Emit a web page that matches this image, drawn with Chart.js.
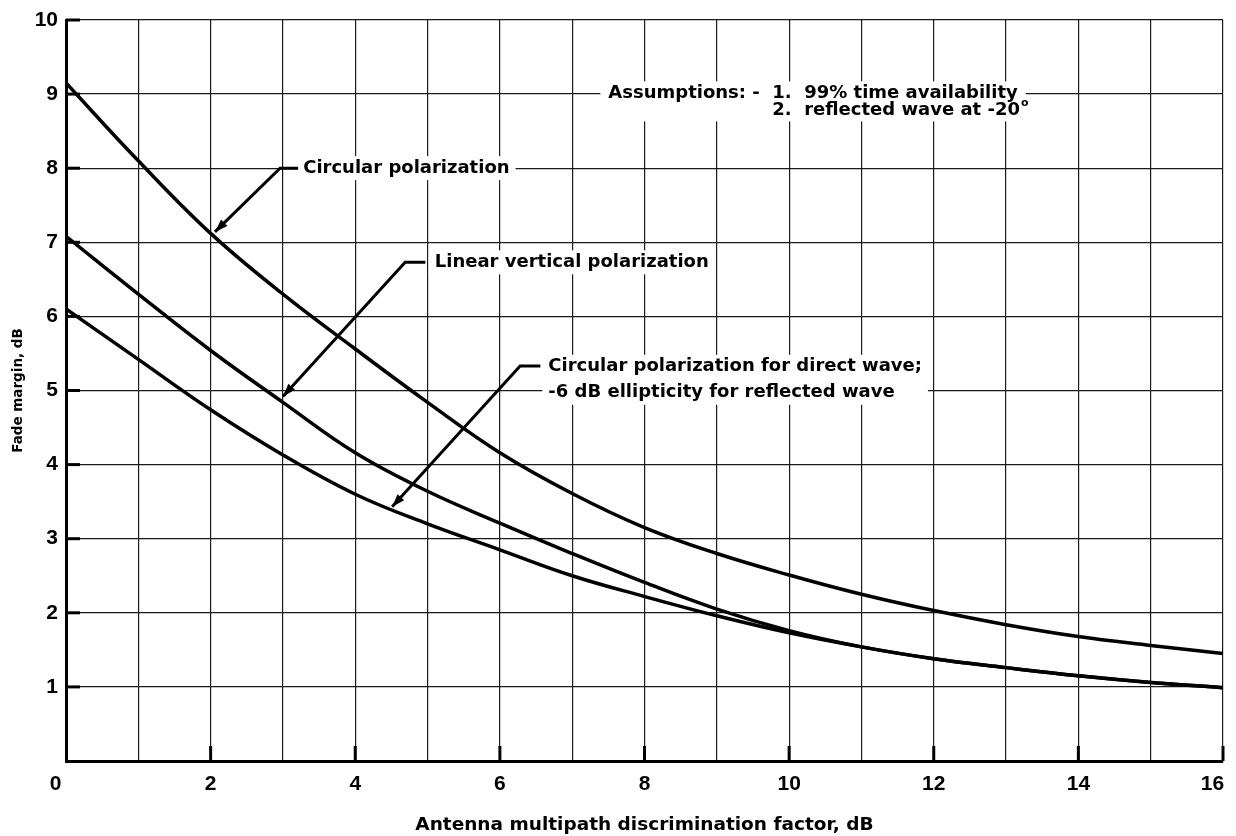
<!DOCTYPE html>
<html>
<head>
<meta charset="utf-8">
<title>Fade margin vs antenna multipath discrimination</title>
<script src="https://cdn.jsdelivr.net/npm/chart.js@4.4.1/dist/chart.umd.min.js"></script>
<style>
  html, body { margin: 0; padding: 0; background: #fff; }
  #wrap { width: 1236px; height: 836px; position: relative; }
</style>
</head>
<body>
<div id="wrap"><canvas id="fadeChart"></canvas></div>
<script>
// Fade margin (dB) against antenna multipath discrimination factor (dB)
const discrimination = [0, 1, 2, 3, 4, 5, 6, 7, 8, 9, 10, 11, 12, 13, 14, 15, 16];
const circularPol = [9.15, 8.1, 7.12, 6.3, 5.56, 4.84, 4.16, 3.61, 3.15, 2.8, 2.51, 2.25, 2.03, 1.84, 1.68, 1.56, 1.45];
const linearVertical = [7.08, 6.3, 5.54, 4.84, 4.16, 3.64, 3.21, 2.8, 2.41, 2.05, 1.76, 1.54, 1.38, 1.26, 1.15, 1.06, 0.99];
const circularDirect = [6.1, 5.42, 4.74, 4.13, 3.6, 3.2, 2.85, 2.5, 2.22, 1.96, 1.73, 1.54, 1.38, 1.26, 1.15, 1.06, 0.99];

// end labels carry an em space so they sit inside the corners
const xTickLabels = ['0\u2003', '', '2', '', '4', '', '6', '', '8', '', '10', '', '12', '', '14', '', '16\u2003'];
const yTickLabels = ['', '1', '2', '3', '4', '5', '6', '7', '8', '9', '10'];

const textFont = 'bold 18px "DejaVu Sans"';

// callout labels with leader lines (tip, elbow, end) in data units
const callouts = [
  { lines: ['Circular polarization'], x: 3.28, y: 8.0, gap: 0,
    leader: [[2.06, 7.14], [2.96, 8.0], [3.21, 8.0]] },
  { lines: ['Linear vertical polarization'], x: 5.1, y: 6.73, gap: 0,
    leader: [[3.0, 4.92], [4.69, 6.73], [4.97, 6.73]] },
  { lines: ['Circular polarization for direct wave;', '-6 dB ellipticity for reflected wave'], x: 6.67, y: 5.32, gap: 26,
    leader: [[4.51, 3.43], [6.28, 5.33], [6.56, 5.33]] }
];

function toPoints(values) {
  return discrimination.map((x, i) => ({ x: x, y: values[i] }));
}

function curve(label, values) {
  return {
    label: label,
    data: toPoints(values),
    borderColor: '#000',
    borderWidth: 3.5,
    pointRadius: 0,
    fill: false,
    tension: 0.4
  };
}

const notesPlugin = {
  id: 'notes',
  beforeDatasetsDraw(chart) {
    const ctx = chart.ctx;
    const xs = chart.scales.x, ys = chart.scales.y;
    ctx.save();
    ctx.font = textFont;
    ctx.fillStyle = '#fff';
    callouts.forEach(c => {
      const px = xs.getPixelForValue(c.x);
      const py = ys.getPixelForValue(c.y);
      const w = Math.max(...c.lines.map(t => ctx.measureText(t).width));
      const h = (c.lines.length - 1) * c.gap;
      ctx.fillRect(px - 6, py - 12, w + 12, h + 24);
    });
    // assumptions block
    const ax = xs.getPixelForValue(7.5), ay = ys.getPixelForValue(9.01);
    ctx.fillRect(ax - 8, ay - 12, ctx.measureText('Assumptions: -  1.  99% time availability').width + 16, 40);

    // short inner tick stubs on the axes
    ctx.strokeStyle = '#000';
    ctx.lineWidth = 3;
    for (let v = 1; v <= 10; v++) {
      const py = ys.getPixelForValue(v);
      ctx.beginPath();
      ctx.moveTo(xs.left, py);
      ctx.lineTo(xs.left + 14, py);
      ctx.stroke();
    }
    for (let v = 2; v <= 16; v += 2) {
      const px = xs.getPixelForValue(v);
      ctx.beginPath();
      ctx.moveTo(px, ys.bottom);
      ctx.lineTo(px, ys.bottom - 15);
      ctx.stroke();
    }
    ctx.restore();
  },
  afterDatasetsDraw(chart) {
    const ctx = chart.ctx;
    const xs = chart.scales.x, ys = chart.scales.y;
    ctx.save();
    ctx.font = textFont;
    ctx.fillStyle = '#000';
    ctx.strokeStyle = '#000';
    ctx.textBaseline = 'middle';
    ctx.textAlign = 'left';

    callouts.forEach(c => {
      const px = xs.getPixelForValue(c.x);
      const py = ys.getPixelForValue(c.y);
      c.lines.forEach((t, i) => ctx.fillText(t, px, py + i * c.gap));

      const pts = c.leader.map(p => [xs.getPixelForValue(p[0]), ys.getPixelForValue(p[1])]);
      ctx.lineWidth = 3;
      ctx.beginPath();
      ctx.moveTo(pts[0][0], pts[0][1]);
      for (let i = 1; i < pts.length; i++) ctx.lineTo(pts[i][0], pts[i][1]);
      ctx.stroke();

      // arrowhead at the tip
      const ang = Math.atan2(pts[0][1] - pts[1][1], pts[0][0] - pts[1][0]);
      ctx.save();
      ctx.translate(pts[0][0], pts[0][1]);
      ctx.rotate(ang);
      ctx.beginPath();
      ctx.moveTo(0, 0);
      ctx.lineTo(-13, -4.5);
      ctx.lineTo(-13, 4.5);
      ctx.closePath();
      ctx.fill();
      ctx.restore();
    });

    const ax = xs.getPixelForValue(7.5), ay = ys.getPixelForValue(9.01);
    const head = 'Assumptions: -  ';
    ctx.fillText(head + '1.  99% time availability', ax, ay);
    const lx = ax + ctx.measureText(head).width;
    const ly = ay + 17;
    const second = '2.  reflected wave at -20';
    ctx.fillText(second, lx, ly);
    const sw = ctx.measureText(second).width;
    ctx.font = 'bold 11px "DejaVu Sans"';
    ctx.fillText('o', lx + sw + 1, ly - 7);
    ctx.restore();
  }
};

const chart = new Chart(document.getElementById('fadeChart'), {
  type: 'line',
  data: {
    datasets: [
      curve('Circular polarization', circularPol),
      curve('Linear vertical polarization', linearVertical),
      curve('Circular polarization for direct wave; -6 dB ellipticity for reflected wave', circularDirect)
    ]
  },
  options: {
    responsive: true,
    maintainAspectRatio: false,
    animation: false,
    layout: { padding: { top: 20, right: 13, left: 0, bottom: 0 } },
    plugins: {
      legend: { display: false },
      tooltip: { enabled: false }
    },
    scales: {
      x: {
        type: 'linear',
        min: 0,
        max: 16,
        afterFit: scale => {
          scale.height = 75;
          scale.paddingLeft = 0;
          scale.paddingRight = 0;
        },
        border: { display: true, color: '#000', width: 3 },
        grid: { color: '#1a1a1a', lineWidth: 1.2, drawTicks: false },
        ticks: {
          stepSize: 1,
          autoSkip: false,
          maxRotation: 0,
          padding: 11,
          color: '#000',
          font: { family: '"Liberation Sans"', size: 21, weight: 'bold' },
          callback: (value, index) => xTickLabels[index]
        },
        title: {
          display: true,
          text: 'Antenna multipath discrimination factor, dB',
          color: '#000',
          font: { family: '"DejaVu Sans"', size: 18.5, weight: 'bold' },
          padding: { top: 0, bottom: 0 }
        }
      },
      y: {
        min: 0,
        max: 10,
        afterFit: scale => {
          scale.width = 66;
          scale.paddingTop = 0;
          scale.paddingBottom = 0;
        },
        border: { display: true, color: '#000', width: 3 },
        grid: { color: '#1a1a1a', lineWidth: 1.2, drawTicks: false },
        ticks: {
          stepSize: 1,
          autoSkip: false,
          padding: 8,
          color: '#000',
          font: { family: '"Liberation Sans"', size: 21, weight: 'bold' },
          callback: (value, index) => yTickLabels[index]
        },
        title: {
          display: true,
          text: 'Fade margin, dB',
          color: '#000',
          font: { family: '"DejaVu Sans"', size: 13.5, weight: 'bold' },
          padding: { top: 10, bottom: 0 }
        }
      }
    }
  },
  plugins: [notesPlugin]
});
</script>
</body>
</html>
